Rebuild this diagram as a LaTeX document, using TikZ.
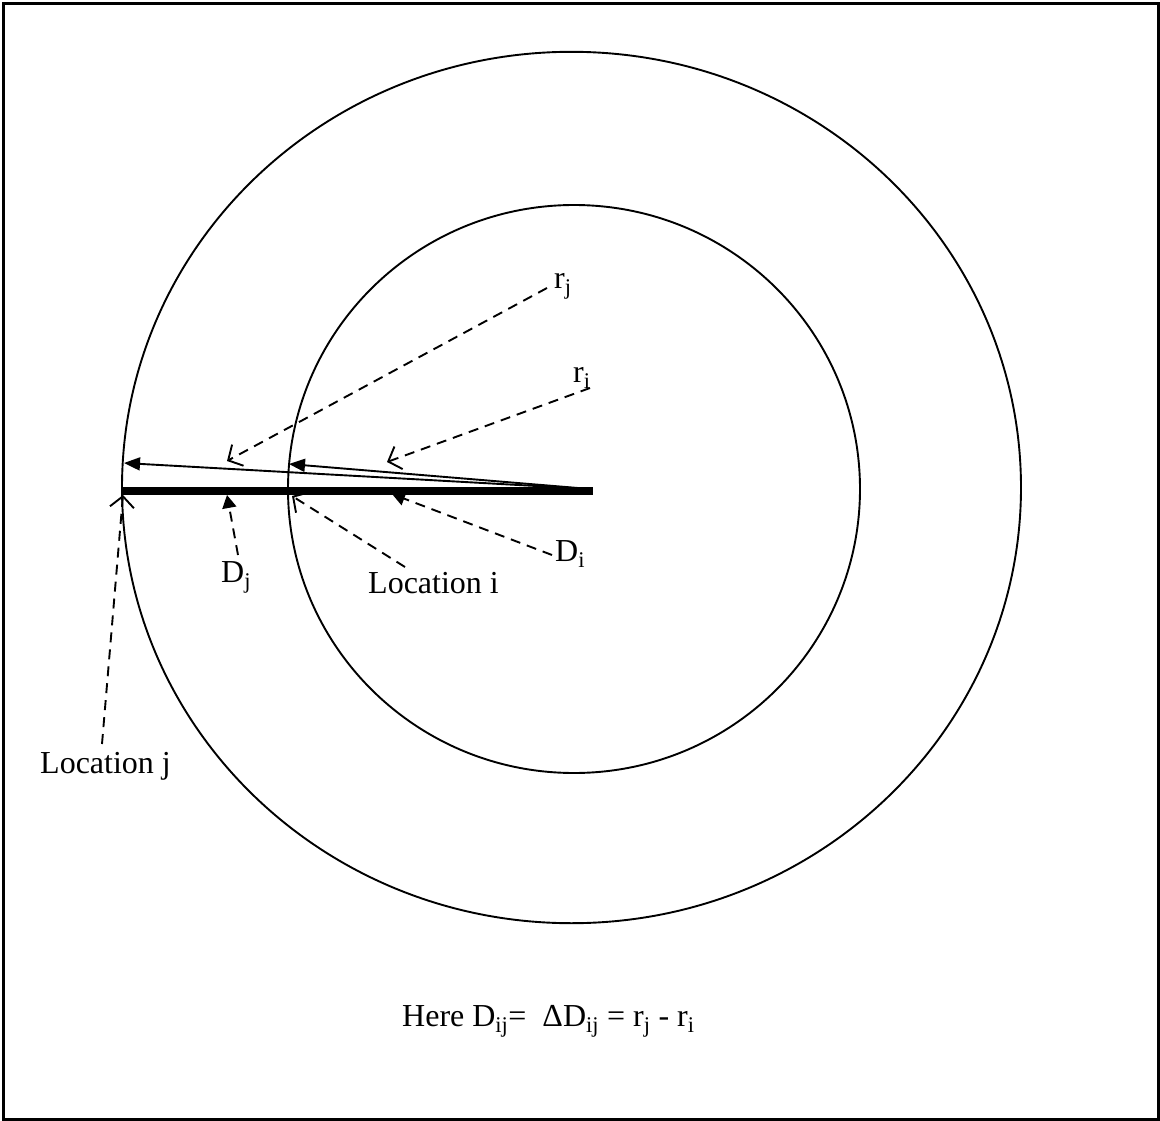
\documentclass[tikz,border=0pt]{standalone}
\usepackage{fontspec}
\setmainfont{Liberation Serif}
\usetikzlibrary{arrows.meta}
\tikzset{
  lbl/.style={inner sep=0pt, anchor=base west, font=\fontsize{32}{37}\selectfont},
  ring/.style={line width=1.9pt},
  solidarrow/.style={line width=1.9pt, -{Triangle[length=16pt,width=13pt]}},
  dashopen/.style={line width=1.9pt, dash pattern=on 10pt off 7pt, -{Straight Barb[length=11pt,width=24pt,line width=1.9pt]}},
  dashfill/.style={line width=1.9pt, dash pattern=on 10pt off 7pt, -{Triangle[length=13pt,width=14pt]}},
}
\begin{document}
\begin{tikzpicture}[x=1pt,y=-1pt]
\useasboundingbox (0,0) rectangle (1160,1121);
\draw[line width=2.8pt] (3.3,3.3) rectangle (1158.7,1119.7);
% circles
\coordinate (co) at (571.5,487.5);
\coordinate (ci) at (574,489);
\draw[ring] (co) ellipse [x radius=449.5, y radius=435.7];
\draw[ring] (ci) ellipse [x radius=286, y radius=284];
% key points
\coordinate (pj) at (122,491);
\coordinate (bend) at (593,491);
\coordinate (src) at (590,489);
\coordinate (tipRj) at (124,463);
\coordinate (tipRi) at (289,464);
% labels
\node[lbl] (rj) at (554,288) {r\textsubscript{j}};
\node[lbl] (ri) at (573,382) {r\textsubscript{i}};
\node[lbl] (Di) at (555,561) {D\textsubscript{i}};
\node[lbl] (Dj) at (221,582) {D\textsubscript{j}};
\node[lbl] (Li) at (368,593) {Location i};
\node[lbl] (Lj) at (40,773) {Location j};
\node[lbl] (eq) at (402,1026) {Here D\textsubscript{ij}=\ \ ΔD\textsubscript{ij} = r\textsubscript{j} - r\textsubscript{i}};
% dashed pointers
\coordinate (sRj) at (547,288);
\coordinate (eRj) at (227,461);
\coordinate (sRi) at (590,388);
\coordinate (eRi) at (387,462);
\coordinate (sDi) at (552,555);
\coordinate (eDi) at (392,494);
\coordinate (sDj) at (238,555);
\coordinate (eDj) at (227,495);
\coordinate (sLi) at (405,567);
\coordinate (eLi) at (292,496);
\coordinate (sLj) at (102,744);
\coordinate (eLj) at (123,495);
\draw[dashopen] (sRj) -- (eRj);
\draw[dashopen] (sRi) -- (eRi);
\draw[dashfill] (sDi) -- (eDi);
\draw[dashfill] (sDj) -- (eDj);
\draw[dashopen] (sLi) -- (eLi);
\draw[dashopen] (sLj) -- (eLj);
% thick bar
\draw[line width=8pt] (pj) -- (bend);
% radii
\draw[solidarrow] (src) -- (tipRj);
\draw[solidarrow] (src) -- (tipRi);
\end{tikzpicture}
\end{document}
